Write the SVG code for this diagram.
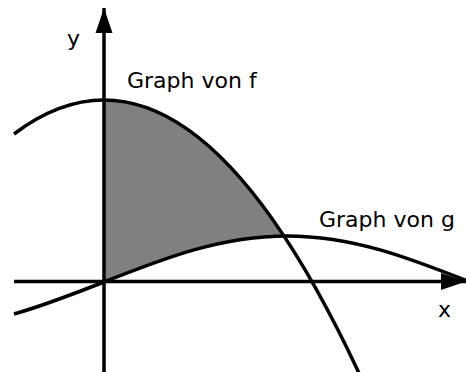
<svg xmlns="http://www.w3.org/2000/svg" width="466" height="372" viewBox="0 0 466 372">
<style>
.crv{fill:none;stroke:#000;stroke-width:3.5;stroke-linecap:butt}
.ax{fill:none;stroke:#000;stroke-width:3.5}
.lbl{font-family:"DejaVu Sans",Verdana,sans-serif;font-size:22px;fill:#000}
</style>
<defs>
<marker id="ah" markerUnits="userSpaceOnUse" markerWidth="26" markerHeight="18" refX="25" refY="9" orient="auto">
<path d="M0,0.5 L25,9 L0,17.5 Z" fill="#000"/>
</marker>
</defs>
<g id="area">
<path d="M104,100 Q194,100 284,236 C220.8,236 163.7,258.4 104,282 Z" fill="#808080"/>
</g>
<g id="connectors">
<line class="ax" x1="14" y1="281.5" x2="466" y2="281.5" marker-end="url(#ah)"/>
<line class="ax" x1="104" y1="372" x2="104" y2="8" marker-end="url(#ah)"/>
</g>
<g id="graph-f">
<path class="crv" d="M14,134 Q188,2.5 362,379.6"/>
</g>
<g id="graph-g">
<path class="crv" d="M14,314 C44,305.5 74,293.8 104,282 C163.7,258.4 220.8,236 287,236 C353.2,236 410.3,258.4 470,282"/>
</g>
<g id="labels">
<text class="lbl" x="67" y="46">y</text>
<text class="lbl" x="438" y="317">x</text>
<text class="lbl" x="127" y="88">Graph von f</text>
<text class="lbl" x="319" y="227">Graph von g</text>
</g>
</svg>
